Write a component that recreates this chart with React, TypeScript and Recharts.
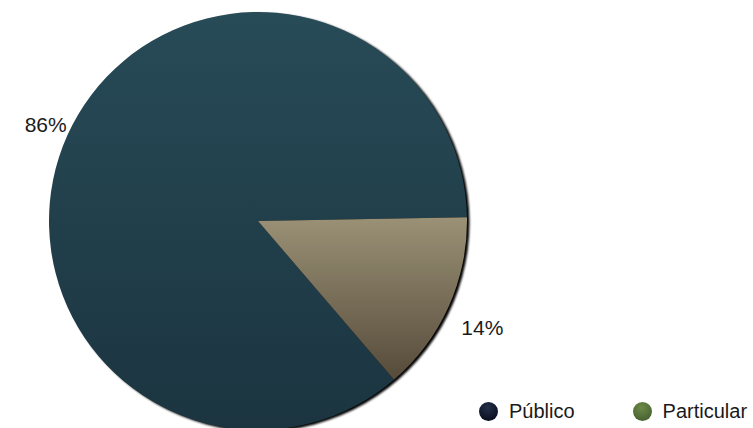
import { Cell, Legend, Pie, PieChart } from "recharts";

const categories = ["Público", "Particular"];
const shares = [86, 14];
const dotColors = ["#0a1020", "#4a6332"];
const fills = ["url(#gradPublico)", "url(#gradParticular)"];

const data = categories.map((name, i) => ({ name, value: shares[i] }));
const total = shares.reduce((a, b) => a + b, 0);
const shadowData = [{ name: "shadow", value: total }];

const RAD = Math.PI / 180;

function renderLabel(props: any) {
  const { cx, cy, midAngle, value } = props;
  const r = 235;
  const right = Math.cos(-midAngle * RAD) > 0;
  const x = cx + r * Math.cos(-midAngle * RAD) + (right ? 10 : 2);
  const y = cy + r * Math.sin(-midAngle * RAD) + (right ? 10 : 0);
  return (
    <text
      x={x}
      y={y}
      textAnchor="middle"
      dominantBaseline="central"
      fill="#1a1a1a"
      fontSize={21}
      fontFamily="'Liberation Sans', Arial, sans-serif"
    >
      {`${value}%`}
    </text>
  );
}

function LegendContent() {
  return (
    <div style={{ display: "flex", alignItems: "center", fontFamily: "'Liberation Sans', Arial, sans-serif", fontSize: 20, color: "#1a1a1a" }}>
      {categories.map((c, i) => (
        <div key={c} style={{ display: "flex", alignItems: "center", marginRight: i === 0 ? 58 : 0 }}>
          <span
            style={{
              width: 19,
              height: 19,
              borderRadius: "50%",
              background: `radial-gradient(circle at 45% 30%, ${i === 0 ? "#243048" : "#6c8a48"}, ${dotColors[i]} 75%)`,
              display: "inline-block",
              marginRight: 11,
            }}
          />
          <span>{c}</span>
        </div>
      ))}
    </div>
  );
}

export default function App() {
  return (
    <div style={{ width: 753, height: 428, background: "#fff", overflow: "hidden" }}>
      <style>{`body{margin:0}`}</style>
      <PieChart width={753} height={428} margin={{ top: 0, right: 0, bottom: 0, left: 0 }}>
        <defs>
          <linearGradient id="gradPublico" x1="0" y1="0" x2="0" y2="1">
            <stop offset="0%" stopColor="#274b57" />
            <stop offset="100%" stopColor="#1b3440" />
          </linearGradient>
          <linearGradient id="gradParticular" x1="0" y1="0" x2="0" y2="1">
            <stop offset="0%" stopColor="#9a9176" />
            <stop offset="100%" stopColor="#564b3a" />
          </linearGradient>
          <filter id="pieShadow" x="-10%" y="-10%" width="120%" height="120%">
            <feGaussianBlur stdDeviation="1.2" />
          </filter>
        </defs>
        <Pie
          data={shadowData}
          dataKey="value"
          cx={260.5}
          cy={222.5}
          outerRadius={209}
          stroke="none"
          isAnimationActive={false}
          legendType="none"
        >
          <Cell fill="#000" filter="url(#pieShadow)" />
        </Pie>
        <Pie
          data={data}
          dataKey="value"
          nameKey="name"
          cx={258}
          cy={221}
          outerRadius={209}
          startAngle={1}
          endAngle={361}
          stroke="none"
          label={renderLabel}
          labelLine={false}
          isAnimationActive={false}
        >
          {data.map((d, i) => (
            <Cell key={d.name} fill={fills[i]} />
          ))}
        </Pie>
        <Legend content={<LegendContent />} wrapperStyle={{ position: "absolute", left: 479, top: 400, width: 300 }} />
      </PieChart>
    </div>
  );
}
